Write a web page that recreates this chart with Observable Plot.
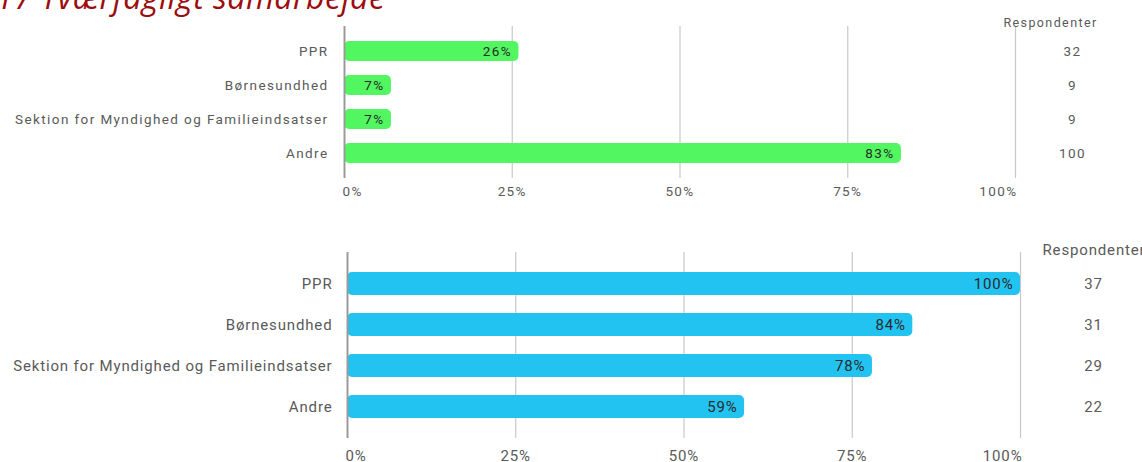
<!DOCTYPE html>
<html><head><meta charset="utf-8">
<script src="https://cdn.jsdelivr.net/npm/d3@7"></script>
<script src="https://cdn.jsdelivr.net/npm/@observablehq/plot@0.6"></script>
<style>
body{margin:0;background:#fff;width:1142px;height:462px;overflow:hidden;position:relative;font-family:Roboto,sans-serif}
#title{position:absolute;left:-4px;top:-25px;font-family:"Open Sans",sans-serif;font-style:italic;font-size:32px;line-height:normal;color:#9c0d10;white-space:nowrap;letter-spacing:0.5px}
#c1{position:absolute;left:0;top:0}
#c2{position:absolute;left:0;top:226px}
</style></head><body>
<div id="title">17 Tværfagligt samarbejde</div>
<div id="c1"></div><div id="c2"></div>
<script>
const categories = ["PPR","Børnesundhed","Sektion for Myndighed og Familieindsatser","Andre"];
const topValues = [0.26,0.07,0.07,0.83];
const topRespondents = [32,9,9,100];
const bottomValues = [1.00,0.84,0.78,0.59];
const bottomRespondents = [37,31,29,22];
const xTicks = [0,0.25,0.5,0.75,1];
const xTickLabels = ["0%","25%","50%","75%","100%"];
const respHeader = "Respondenter";

function makeChart(values, resp, o){
  const data = categories.map((c,i)=>({cat:c, v:values[i], n:resp[i]}));
  const ticks = xTicks.map((t,i)=>({t, label:xTickLabels[i],
    anchor: i===0 ? "start" : i===xTicks.length-1 ? "end" : "middle"}));
  return Plot.plot({
    width:1142, height:o.height,
    marginLeft:o.ml, marginRight:o.mr, marginTop:o.mt, marginBottom:o.mb,
    style:{fontFamily:"Roboto, sans-serif", fontSize:o.fs+"px", color:"#5a5a5a", background:"transparent", letterSpacing:o.ls+"px", overflow:"visible"},
    x:{domain:[0,1], axis:null},
    y:{domain:categories, paddingInner:o.pi, paddingOuter:o.po, tickSize:0, tickPadding:o.ytp, label:null},
    marks:[
      Plot.ruleX(xTicks.slice(1), {stroke:"#c8c8c8", strokeWidth:1.2}),
      Plot.barX(data, {x:"v", y:"cat", fill:o.color, rx:5}),
      Plot.ruleX([0], {stroke:"#9a9a9a", strokeWidth:2}),
      Plot.text(data, {x:"v", y:"cat", text:d=>Math.round(d.v*100)+"%", textAnchor:"end", dx:-7, fill:"#2a2a2a", fontSize:o.fs}),
      Plot.text(data, {y:"cat", text:d=>String(d.n), frameAnchor:"right", textAnchor:"middle", dx:o.ndx, fill:"#5a5a5a", fontSize:o.fs}),
      Plot.text([respHeader], {text:d=>d, frameAnchor:"top-right", textAnchor:o.hAnchor, dx:o.hdx, dy:o.hdy, fill:"#5a5a5a", fontSize:o.hfs}),
      ...["start","middle","end"].map(a => Plot.text(ticks.filter(d=>d.anchor===a), {x:"t", text:"label", frameAnchor:"bottom", textAnchor:a, dx:a==="start"?-2:a==="end"?2:0, dy:o.tdy, lineAnchor:"middle", fill:"#5a5a5a", fontSize:o.fs}))
    ]
  });
}
document.getElementById("c1").appendChild(makeChart(topValues, topRespondents, {
  height:208, ml:344, mr:127, mt:26, mb:30, fs:13.5, ls:1.4, tdy:13, ytp:16, pi:0.424, po:0.40, color:"#52f661",
  ndx:57, hAnchor:"middle", hdx:35, hdy:-8, hfs:12.5
}));
document.getElementById("c2").appendChild(makeChart(bottomValues, bottomRespondents, {
  height:236, ml:347, mr:122, mt:26, mb:24, fs:15, ls:0.85, tdy:18, ytp:15, pi:0.429, po:0.43, color:"#22c3f1",
  ndx:73, hAnchor:"start", hdx:22, hdy:-8, hfs:15
}));
</script></body></html>
